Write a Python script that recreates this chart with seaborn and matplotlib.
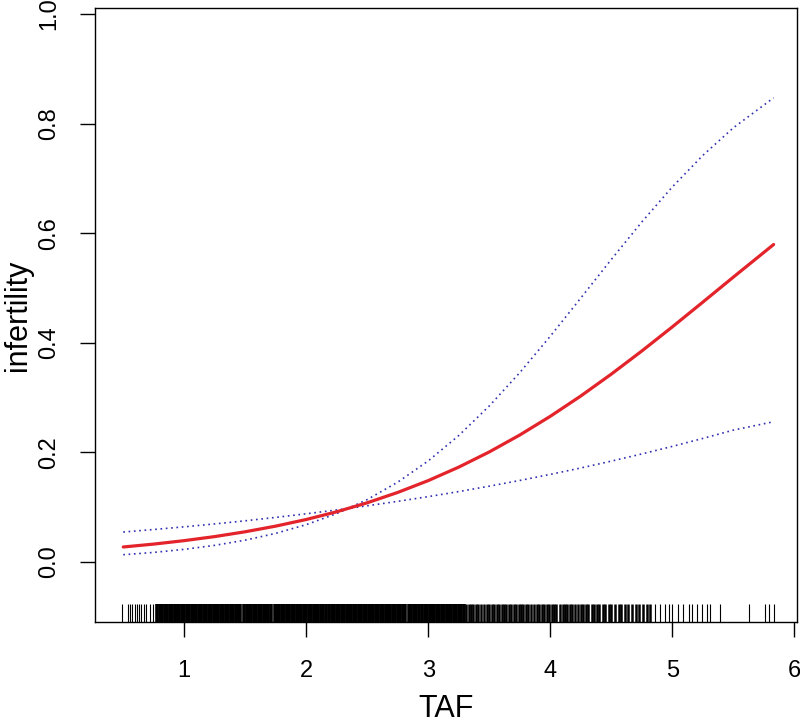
import numpy as np
import pandas as pd
import matplotlib
matplotlib.use("Agg")
import matplotlib.pyplot as plt
import seaborn as sns

# TAF grid and fitted probability of infertility (with 95% CI bounds)
taf = [0.50, 0.75, 1.00, 1.25, 1.50, 1.75, 2.00, 2.25, 2.50, 2.75, 3.00,
       3.25, 3.50, 3.75, 4.00, 4.25, 4.50, 4.75, 5.00, 5.25, 5.50, 5.83]
fit = [0.0274, 0.0327, 0.0390, 0.0464, 0.0552, 0.0655, 0.0776, 0.0917,
       0.1081, 0.1270, 0.1486, 0.1732, 0.2009, 0.2318, 0.2659, 0.3030,
       0.3429, 0.3851, 0.4291, 0.4743, 0.5199, 0.5794]
ci_a = [0.0133, 0.0175, 0.0231, 0.0304, 0.0399, 0.0523, 0.0682, 0.0884,
        0.1140, 0.1458, 0.1846, 0.2309, 0.2848, 0.3457, 0.4121, 0.4818,
        0.5522, 0.6206, 0.6845, 0.7421, 0.7924, 0.8471]
ci_b = [0.0547, 0.0593, 0.0642, 0.0695, 0.0752, 0.0814, 0.0880, 0.0950,
        0.1026, 0.1107, 0.1193, 0.1285, 0.1384, 0.1488, 0.1599, 0.1716,
        0.1841, 0.1972, 0.2110, 0.2255, 0.2407, 0.2560]

# observed TAF values (rug)
rug_dense = [0.78, 0.80, 0.82, 0.84, 0.86, 0.88, 0.90, 0.92, 0.94, 0.96, 0.98,
             1.00, 1.02, 1.04, 1.06, 1.08, 1.10, 1.12, 1.14, 1.16, 1.18, 1.20,
             1.22, 1.24, 1.26, 1.28, 1.30, 1.32, 1.34, 1.36, 1.38, 1.40, 1.42,
             1.44, 1.46, 1.49, 1.51, 1.53, 1.55, 1.57, 1.59, 1.61, 1.63, 1.65,
             1.67, 1.69, 1.71, 1.74, 1.76, 1.78, 1.80, 1.82, 1.84, 1.86, 1.88,
             1.90, 1.92, 1.94, 1.96, 1.98, 2.00, 2.02, 2.04, 2.06, 2.08, 2.10,
             2.12, 2.14, 2.16, 2.19, 2.21, 2.23, 2.25, 2.27, 2.29, 2.31, 2.33,
             2.35, 2.37, 2.39, 2.41, 2.43, 2.45, 2.47, 2.49, 2.51, 2.53, 2.55,
             2.57, 2.59, 2.61, 2.63, 2.65, 2.67, 2.69, 2.71, 2.73, 2.75, 2.77,
             2.79, 2.81, 2.84, 2.86, 2.88, 2.90, 2.92, 2.95, 2.97, 2.99, 3.01,
             3.03, 3.05, 3.07, 3.09, 3.11, 3.13, 3.15, 3.17, 3.19, 3.21, 3.23,
             3.25, 3.27, 3.29]
rug_mid = [3.31, 3.33, 3.35, 3.37, 3.39, 3.41, 3.43, 3.46, 3.48, 3.50, 3.52,
           3.54, 3.56, 3.58, 3.60, 3.62, 3.64, 3.66, 3.68, 3.70, 3.72, 3.74,
           3.76, 3.78, 3.80, 3.82, 3.84, 3.87, 3.89, 3.91, 3.93, 3.95, 3.97,
           3.99, 4.01, 4.03, 4.05, 4.08, 4.10, 4.12, 4.14, 4.16, 4.18, 4.20,
           4.23, 4.25, 4.27, 4.29, 4.31, 4.34, 4.36, 4.38, 4.40, 4.43, 4.45,
           4.48, 4.50, 4.53, 4.56, 4.58, 4.61, 4.64, 4.67, 4.70, 4.73, 4.76,
           4.79, 4.82]
rug_sparse = [0.49, 0.54, 0.558, 0.575, 0.594, 0.611, 0.63, 0.648, 0.67, 0.689,
              0.717, 0.745, 0.766, 4.86, 4.90, 4.94, 4.97, 5.00, 5.05, 5.09,
              5.14, 5.16, 5.20, 5.24, 5.28, 5.31, 5.39, 5.63, 5.76, 5.79, 5.83]

x_ticks = [1, 2, 3, 4, 5, 6]
y_ticks = [0.0, 0.2, 0.4, 0.6, 0.8, 1.0]

sns.set_theme(style="white")
plt.rcParams['font.family'] = ['Liberation Sans', 'DejaVu Sans']

df = pd.DataFrame({'TAF': taf, 'fit': fit, 'ci_a': ci_a, 'ci_b': ci_b})

fig = plt.figure(figsize=(8, 7.28), dpi=100)
ax = fig.add_axes([0.119, 0.1456, 0.877, 0.8434])

dot = (0, (1, 2.2))
sns.lineplot(data=df, x='TAF', y='ci_a', ax=ax, color='#3030b0', lw=1.2,
             linestyle=dot)
sns.lineplot(data=df, x='TAF', y='ci_b', ax=ax, color='#3030b0', lw=1.2,
             linestyle=dot)
sns.lineplot(data=df, x='TAF', y='fit', ax=ax, color='#e3242b', lw=2.3)

sns.rugplot(x=rug_dense, ax=ax, height=0.03, color='black', linewidth=2.6)
sns.rugplot(x=rug_mid, ax=ax, height=0.03, color='black', linewidth=1.8)
sns.rugplot(x=rug_sparse, ax=ax, height=0.03, color='black', linewidth=0.8)

ax.set_xlim(0.27, 6.02)
ax.set_ylim(-0.1095, 1.011)
ax.set_xticks(x_ticks)
ax.set_xticklabels([str(v) for v in x_ticks])
ax.set_yticks(y_ticks)
ax.set_yticklabels([f"{v:.1f}" for v in y_ticks], rotation=90, va='center')

for s in ax.spines.values():
    s.set_color('black')
    s.set_linewidth(1.0)

ax.tick_params(axis='both', which='major', direction='out', length=11,
               width=1.0, color='black', labelsize=17, labelcolor='black',
               pad=14, left=True, bottom=True)
ax.tick_params(axis='x', pad=16)

ax.set_xlabel('TAF', fontsize=22, color='black', labelpad=9)
ax.set_ylabel('infertility', fontsize=22, color='black', labelpad=4)

fig.savefig('out.png', dpi=100, facecolor='white')
